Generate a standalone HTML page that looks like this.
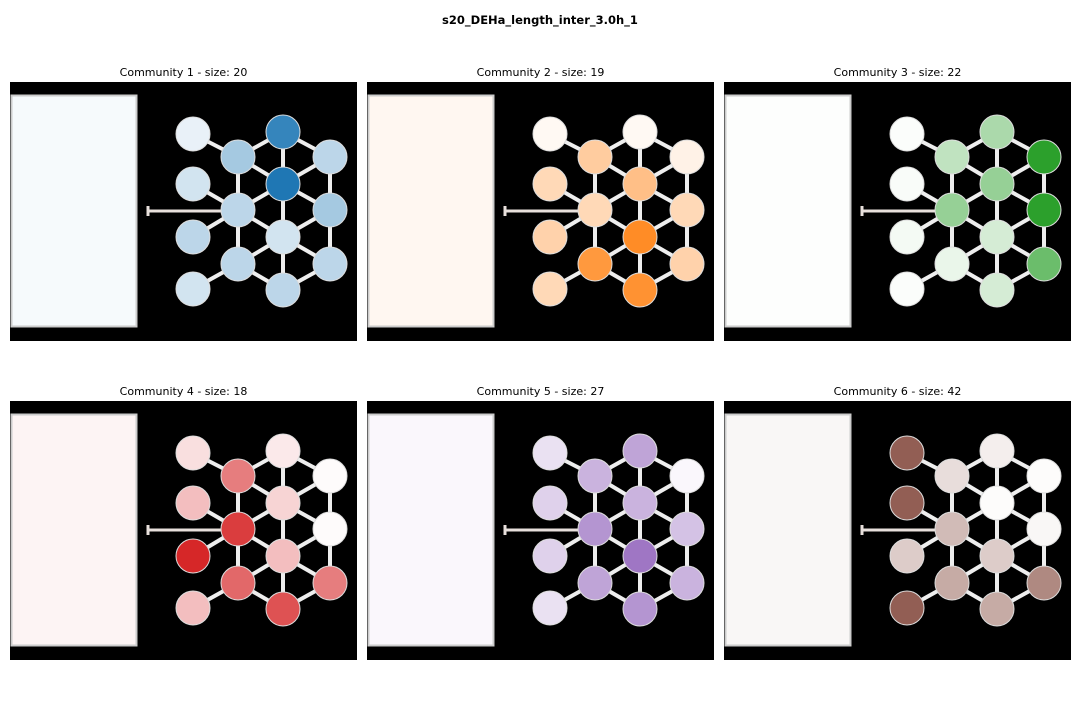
<!DOCTYPE html>
<html><head><meta charset="utf-8"><style>
body{margin:0;background:#fff;width:1080px;height:720px;overflow:hidden}
svg{display:block;font-family:"DejaVu Sans","Liberation Sans",sans-serif}
</style></head><body>
<svg id="fig" width="1080" height="720">
<text x="540" y="24" text-anchor="middle" font-size="11.5" font-weight="bold">s20_DEHa_length_inter_3.0h_1</text>
</svg>
<script>
const titles=["Community 1 - size: 20","Community 2 - size: 19","Community 3 - size: 22","Community 4 - size: 18","Community 5 - size: 27","Community 6 - size: 42"];
const colors=["#1f77b4","#ff7f0e","#2ca02c","#d62728","#9467bd","#8c564b"];
// node intensities: L1..L4, A1..A3, B1..B4, C1..C3
const intens1=[0.1,0.2,0.3,0.2,0.4,0.3,0.3,0.9,1.0,0.2,0.3,0.3,0.4,0.3];
const intens2=[0.05,0.3,0.35,0.3,0.4,0.3,0.8,0.05,0.5,0.9,0.85,0.1,0.3,0.35];
const intens3=[0.02,0.03,0.05,0.02,0.3,0.5,0.1,0.4,0.5,0.2,0.2,1.0,1.0,0.7];
const intens4=[0.15,0.3,1.0,0.3,0.6,0.9,0.7,0.1,0.2,0.3,0.8,0.02,0.02,0.6];
const intens5=[0.2,0.3,0.3,0.2,0.5,0.7,0.6,0.6,0.5,0.9,0.7,0.05,0.4,0.5];
const intens6=[0.95,0.95,0.3,0.95,0.2,0.4,0.5,0.1,0.02,0.3,0.5,0.02,0.05,0.7];
const rectTint=[0.04,0.06,0.01,0.05,0.05,0.05];
const allIntens=[intens1,intens2,intens3,intens4,intens5,intens6];
const nodes=[[183,52],[183,102],[183,155],[183,207],[228,75],[228,128],[228,182],[273,50],[273,102],[273,155],[273,208],[320,75],[320,128],[320,182]];
const edges=[[0,4],[1,5],[2,5],[3,6],[4,5],[5,6],[7,8],[8,9],[9,10],[11,12],[12,13],
[4,7],[4,8],[5,8],[5,9],[6,9],[6,10],[11,7],[11,8],[12,8],[12,9],[13,9],[13,10]];
const NS="http://www.w3.org/2000/svg";
const svg=document.getElementById('fig');
function mix(hex,t){const r=parseInt(hex.slice(1,3),16),g=parseInt(hex.slice(3,5),16),b=parseInt(hex.slice(5,7),16);
const f=c=>Math.round(255+(c-255)*t);return `rgb(${f(r)},${f(g)},${f(b)})`;}
function mk(tag,attrs,parent){const e=document.createElementNS(NS,tag);for(const k in attrs)e.setAttribute(k,attrs[k]);parent.appendChild(e);return e;}
const px=[10,367,724],py=[82,401];
for(let i=0;i<6;i++){
 const ox=px[i%3],oy=py[Math.floor(i/3)];
 const g=mk('g',{transform:`translate(${ox},${oy})`},svg);
 
 
 const t=mk('text',{x:173.5,y:-6,'text-anchor':'middle','font-size':'11'},g);
 t.textContent=titles[i];
 
 
 const bg=mk('rect',{x:0,y:0,width:347,height:259,fill:'#000'},g);
 
 
 const rc=mk('rect',{x:1.5,y:13.5,width:125,height:231,fill:mix(colors[i],rectTint[i]),stroke:'#ccc','stroke-width':2},g);
 
 
 const stub=mk('path',{d:'M138,124 L138,134 M138,129 L228,129',stroke:'#e8e0dc','stroke-width':3,fill:'none'},g);
 
 
 for(const [a,b] of edges){
  const l=mk('line',{x1:nodes[a][0],y1:nodes[a][1],x2:nodes[b][0],y2:nodes[b][1],stroke:'#eee','stroke-width':4},g);
  
  
 }
 const vals=allIntens[i];
 nodes.forEach((n,k)=>{
  const c=mk('circle',{cx:n[0],cy:n[1],r:17,fill:mix(colors[i],vals[k]),stroke:'#ddd','stroke-width':1},g);
  
  
 });
}
</script>
</body></html>
